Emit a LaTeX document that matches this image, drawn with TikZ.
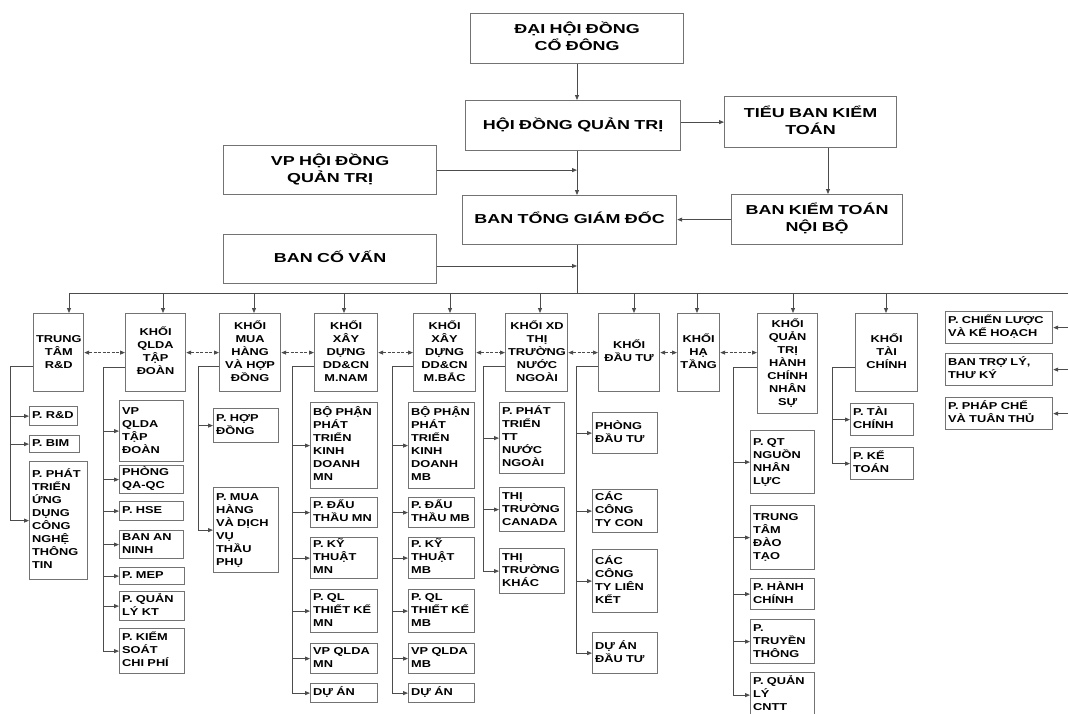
\documentclass[tikz,border=0pt]{standalone}
\usepackage{fontspec}
\setmainfont{Liberation Sans}
\newfontfamily\topfont{Liberation Sans}[FakeStretch=1.38]
\newfontfamily\lowfont{Liberation Sans}[FakeStretch=1.28]
\usetikzlibrary{arrows.meta}
\hyphenpenalty=10000 \exhyphenpenalty=10000
\setlength\parindent{0pt}
\renewcommand\arraystretch{1}
\newcommand\mkbox[8]{%
  \pgfmathsetmacro\mkbw{#5-#3}%
  \pgfmathsetmacro\mkbh{#6-#4}%
  \pgfmathsetmacro\mktw{#5-#3-5}%
  \node[#1, anchor=north west, minimum width=\mkbw pt, minimum height=\mkbh pt, text width=\mktw pt] (#2) at (#3,#4) {\begin{tabular}{@{}#7@{}}#8\end{tabular}};}
\tikzset{
  boxbase/.style={draw=black!55, line width=1.2pt, inner xsep=2.5pt, inner ysep=1pt, text=black},
  topbox/.style={boxbase, align=center, font={\topfont\bfseries\fontsize{13}{17}\selectfont}},
  midbox/.style={boxbase, align=center, font={\lowfont\bfseries\fontsize{10}{13}\selectfont}},
  subbox/.style={boxbase, align=left, font={\lowfont\bfseries\fontsize{10}{13}\selectfont}},
  conn/.style={draw=black!70, line width=0.8pt},
  arr/.style={conn, -{Triangle[length=5pt,width=4pt]}},
  darr/.style={conn, {Triangle[length=5pt,width=4pt]}-{Triangle[length=5pt,width=4pt]}, dash pattern=on 3pt off 1.5pt},
}
\begin{document}
\begin{tikzpicture}[x=1pt,y=-1pt]
\useasboundingbox (0,0) rectangle (1068,713);
% top level
\mkbox{topbox}{dh}{470}{13}{683}{63}{c}{ĐẠI HỘI ĐỒNG\\CỔ ĐÔNG}
\mkbox{topbox}{hd}{465}{100}{680}{150}{c}{HỘI ĐỒNG QUẢN TRỊ}
\mkbox{topbox}{tb}{724}{96}{896}{147}{c}{TIỂU BAN KIỂM\\TOÁN}
\mkbox{topbox}{vp}{223}{145}{436}{194}{c}{VP HỘI ĐỒNG\\QUẢN TRỊ}
\mkbox{topbox}{tg}{462}{195}{676}{244}{c}{BAN TỔNG GIÁM ĐỐC}
\mkbox{topbox}{kt}{731}{194}{902}{244}{c}{BAN KIỂM TOÁN\\NỘI BỘ}
\mkbox{topbox}{cv}{223}{234}{436}{283}{c}{BAN CỐ VẤN}
\coordinate (sp) at (577,0);
\coordinate (kx) at (828,0);
\coordinate (cvA) at (577,266);
\draw[arr] (dh.south -| sp) -- (hd.north -| sp);
\draw[arr] (hd.south -| sp) -- (tg.north -| sp);
\draw[arr] (tb.west -| hd.east) -- (tb.west);
\draw[arr] (tb.south -| kx) -- (kt.north -| kx);
\draw[arr] (kt.west) -- (kt.west -| tg.east);
\draw[arr] (vp.east) -- (vp.east -| sp);
\draw[arr] (cvA -| cv.east) -- (cvA);
% blocks
\mkbox{midbox}{R}{33}{313}{83}{391}{c}{TRUNG\\TÂM\\R\&D}
\mkbox{midbox}{Q}{125}{313}{185}{391}{c}{KHỐI\\QLDA\\TẬP\\ĐOÀN}
\mkbox{midbox}{M}{219}{313}{280}{391}{c}{KHỐI\\MUA\\HÀNG\\VÀ HỢP\\ĐỒNG}
\mkbox{midbox}{XN}{314}{313}{377}{391}{c}{KHỐI\\XÂY\\DỰNG\\DD\&CN\\M.NAM}
\mkbox{midbox}{XB}{413}{313}{475}{391}{c}{KHỐI\\XÂY\\DỰNG\\DD\&CN\\M.BẮC}
\mkbox{midbox}{NN}{505}{313}{567}{391}{c}{KHỐI XD\\THỊ\\TRƯỜNG\\NƯỚC\\NGOÀI}
\mkbox{midbox}{DT}{598}{313}{659}{391}{c}{KHỐI\\ĐẦU TƯ}
\mkbox{midbox}{HT}{677}{313}{719}{391}{c}{KHỐI\\HẠ\\TẦNG}
\mkbox{midbox}{NS}{757}{313}{817}{413}{c}{KHỐI\\QUẢN\\TRỊ\\HÀNH\\CHÍNH\\NHÂN\\SỰ}
\mkbox{midbox}{TC}{855}{313}{917}{391}{c}{KHỐI\\TÀI\\CHÍNH}
% right column
\mkbox{subbox}{S1}{945}{311}{1052}{343}{l}{P. CHIẾN LƯỢC\\VÀ KẾ HOẠCH}
\mkbox{subbox}{S2}{945}{353}{1052}{385}{l}{BAN TRỢ LÝ,\\THƯ KÝ}
\mkbox{subbox}{S3}{945}{397}{1052}{429}{l}{P. PHÁP CHẾ\\VÀ TUÂN THỦ}
% bus
\coordinate (bR) at (69,293);
\coordinate (bQ) at (163,293);
\coordinate (bM) at (254,293);
\coordinate (bXN) at (344,293);
\coordinate (bXB) at (450,293);
\coordinate (bNN) at (540,293);
\coordinate (bDT) at (634,293);
\coordinate (bHT) at (697,293);
\coordinate (bNS) at (793,293);
\coordinate (bTC) at (886,293);
\coordinate (busE) at (1068,293);
\draw[conn] (tg.south -| sp) -- (bR -| sp);
\draw[conn] (bR) -- (busE);
\foreach \b/\n in {bR/R,bQ/Q,bM/M,bXN/XN,bXB/XB,bNN/NN,bDT/DT,bHT/HT,bNS/NS,bTC/TC}
  \draw[arr] (\b) -- (\b |- \n.north);
\foreach \n in {S1,S2,S3}
  \draw[arr] (\n.east -| busE) -- (\n.east);
% links between blocks
\draw[darr] (R.east) -- (R.east -| Q.west);
\draw[darr] (Q.east) -- (Q.east -| M.west);
\draw[darr] (M.east) -- (M.east -| XN.west);
\draw[darr] (XN.east) -- (XN.east -| XB.west);
\draw[darr] (XB.east) -- (XB.east -| NN.west);
\draw[darr] (NN.east) -- (NN.east -| DT.west);
\draw[darr] (DT.east) -- (DT.east -| HT.west);
\draw[darr] (HT.east) -- (HT.east -| NS.west);
% children R
\mkbox{subbox}{r1}{29}{406}{77}{425}{l}{P. R\&D}
\mkbox{subbox}{r2}{29}{435}{79}{452}{l}{P. BIM}
\mkbox{subbox}{r3}{29}{461}{87}{579}{l}{P. PHÁT\\TRIỂN\\ỨNG\\DỤNG\\CÔNG\\NGHỆ\\THÔNG\\TIN}
\coordinate (Rv) at (10,366);
\draw[arr] (Rv -| R.west) -- (Rv) |- (r3.west);
\foreach \c in {r1,r2} \draw[arr] (Rv |- \c.west) -- (\c.west);
% children Q
\mkbox{subbox}{q1}{119}{400}{183}{461}{l}{VP\\QLDA\\TẬP\\ĐOÀN}
\mkbox{subbox}{q2}{119}{465}{183}{493}{l}{PHÒNG\\QA-QC}
\mkbox{subbox}{q3}{119}{501}{183}{520}{l}{P. HSE}
\mkbox{subbox}{q4}{119}{530}{183}{557}{l}{BAN AN\\NINH}
\mkbox{subbox}{q5}{119}{567}{184}{584}{l}{P. MEP}
\mkbox{subbox}{q6}{119}{591}{184}{620}{l}{P. QUẢN\\LÝ KT}
\mkbox{subbox}{q7}{119}{628}{184}{673}{l}{P. KIỂM\\SOÁT\\CHI PHÍ}
\coordinate (Qv) at (103,367);
\draw[arr] (Qv -| Q.west) -- (Qv) |- (q7.west);
\foreach \c in {q1,q2,q3,q4,q5,q6} \draw[arr] (Qv |- \c.west) -- (\c.west);
% children M
\mkbox{subbox}{m1}{213}{408}{278}{442}{l}{P. HỢP\\ĐỒNG}
\mkbox{subbox}{m2}{213}{487}{278}{572}{l}{P. MUA\\HÀNG\\VÀ DỊCH\\VỤ\\THẦU\\PHỤ}
\coordinate (Mv) at (198,366);
\draw[arr] (Mv -| M.west) -- (Mv) |- (m2.west);
\draw[arr] (Mv |- m1.west) -- (m1.west);
% children XN
\mkbox{subbox}{n1}{310}{402}{377}{488}{l}{BỘ PHẬN\\PHÁT\\TRIỂN\\KINH\\DOANH\\MN}
\mkbox{subbox}{n2}{310}{497}{377}{527}{l}{P. ĐẤU\\THẦU MN}
\mkbox{subbox}{n3}{310}{537}{377}{576}{l}{P. KỸ\\THUẬT\\MN}
\mkbox{subbox}{n4}{310}{589}{377}{632}{l}{P. QL\\THIẾT KẾ\\MN}
\mkbox{subbox}{n5}{310}{643}{377}{673}{l}{VP QLDA\\MN}
\mkbox{subbox}{n6}{310}{683}{377}{702}{l}{DỰ ÁN}
\coordinate (Nv) at (292,366);
\draw[arr] (Nv -| XN.west) -- (Nv) |- (n6.west);
\foreach \c in {n1,n2,n3,n4,n5} \draw[arr] (Nv |- \c.west) -- (\c.west);
% children XB
\mkbox{subbox}{b1}{408}{402}{474}{488}{l}{BỘ PHẬN\\PHÁT\\TRIỂN\\KINH\\DOANH\\MB}
\mkbox{subbox}{b2}{408}{497}{474}{527}{l}{P. ĐẤU\\THẦU MB}
\mkbox{subbox}{b3}{408}{537}{474}{576}{l}{P. KỸ\\THUẬT\\MB}
\mkbox{subbox}{b4}{408}{589}{474}{632}{l}{P. QL\\THIẾT KẾ\\MB}
\mkbox{subbox}{b5}{408}{643}{474}{673}{l}{VP QLDA\\MB}
\mkbox{subbox}{b6}{408}{683}{474}{702}{l}{DỰ ÁN}
\coordinate (Bv) at (392,366);
\draw[arr] (Bv -| XB.west) -- (Bv) |- (b6.west);
\foreach \c in {b1,b2,b3,b4,b5} \draw[arr] (Bv |- \c.west) -- (\c.west);
% children NN
\mkbox{subbox}{w1}{499}{402}{564}{473}{l}{P. PHÁT\\TRIỂN\\TT\\NƯỚC\\NGOÀI}
\mkbox{subbox}{w2}{499}{487}{564}{531}{l}{THỊ\\TRƯỜNG\\CANADA}
\mkbox{subbox}{w3}{499}{548}{564}{593}{l}{THỊ\\TRƯỜNG\\KHÁC}
\coordinate (Wv) at (483,366);
\draw[arr] (Wv -| NN.west) -- (Wv) |- (w3.west);
\foreach \c in {w1,w2} \draw[arr] (Wv |- \c.west) -- (\c.west);
% children DT
\mkbox{subbox}{d1}{592}{412}{657}{453}{l}{PHÒNG\\ĐẦU TƯ}
\mkbox{subbox}{d2}{592}{489}{657}{532}{l}{CÁC\\CÔNG\\TY CON}
\mkbox{subbox}{d3}{592}{549}{657}{612}{l}{CÁC\\CÔNG\\TY LIÊN\\KẾT}
\mkbox{subbox}{d4}{592}{632}{657}{673}{l}{DỰ ÁN\\ĐẦU TƯ}
\coordinate (Dv) at (576,366);
\draw[arr] (Dv -| DT.west) -- (Dv) |- (d4.west);
\foreach \c in {d1,d2,d3} \draw[arr] (Dv |- \c.west) -- (\c.west);
% children NS
\mkbox{subbox}{h1}{750}{430}{814}{493}{l}{P. QT\\NGUỒN\\NHÂN\\LỰC}
\mkbox{subbox}{h2}{750}{505}{814}{569}{l}{TRUNG\\TÂM\\ĐÀO\\TẠO}
\mkbox{subbox}{h3}{750}{578}{814}{609}{l}{P. HÀNH\\CHÍNH}
\mkbox{subbox}{h4}{750}{619}{814}{663}{l}{P.\\TRUYỀN\\THÔNG}
\mkbox{subbox}{h5}{750}{672}{814}{717}{l}{P. QUẢN\\LÝ\\CNTT}
\coordinate (Hv) at (733,367);
\draw[arr] (Hv -| NS.west) -- (Hv) |- (h5.west);
\foreach \c in {h1,h2,h3,h4} \draw[arr] (Hv |- \c.west) -- (\c.west);
% children TC
\mkbox{subbox}{t1}{850}{403}{913}{435}{l}{P. TÀI\\CHÍNH}
\mkbox{subbox}{t2}{850}{447}{913}{479}{l}{P. KẾ\\TOÁN}
\coordinate (Tv) at (832,367);
\draw[arr] (Tv -| TC.west) -- (Tv) |- (t2.west);
\draw[arr] (Tv |- t1.west) -- (t1.west);
\end{tikzpicture}
\end{document}
